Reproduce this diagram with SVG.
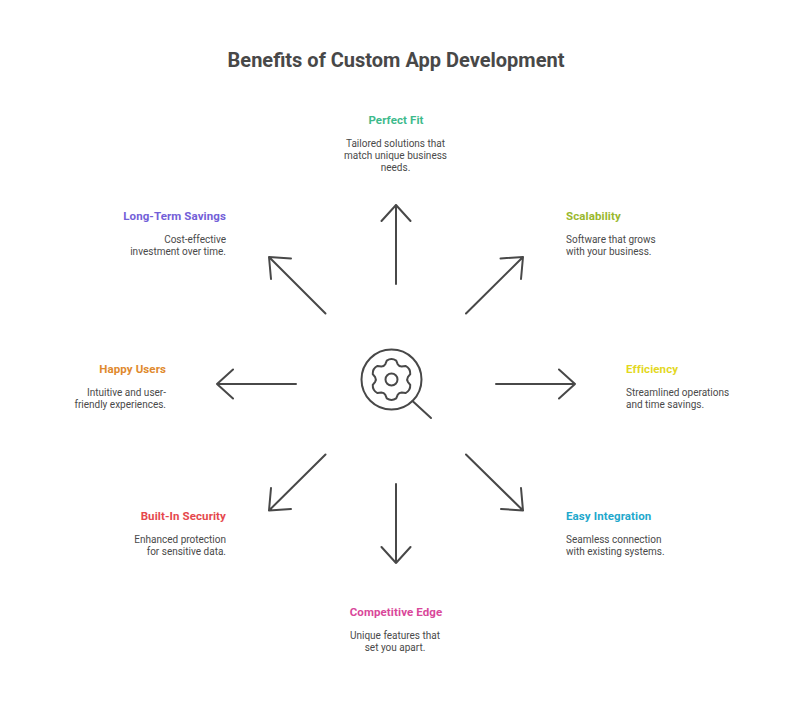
<svg xmlns="http://www.w3.org/2000/svg" width="792" height="720" viewBox="0 0 792 720">
<style>
text{font-family:Roboto,"Liberation Sans",sans-serif}
.t{font-size:11.500px;font-weight:700;letter-spacing:.1px}
.d{font-size:10px;fill:#4a4a4a}
.e{text-anchor:end}
.m{text-anchor:middle}
.a{fill:none;stroke:#484848;stroke-width:2;stroke-linecap:round;stroke-linejoin:round}
</style>
<rect width="792" height="720" fill="#fff"/>
<text id="title" x="396" y="67" class="m" style="font-size:20px;font-weight:700;fill:#484848">Benefits of Custom App Development</text>
<g id="connectors" class="a">
<path d="M396 284V205M381.500 221 396 205 410.500 221"/>
<path d="M466 313.500 523 257M500.500 258.500 523 257 521 279"/>
<path d="M496 384H575M559 369.500 575 384 559 398.500"/>
<path d="M466 454.500 523 510.500M521 488 523 510.500 501 509"/>
<path d="M396 484V563M381.500 547 396 563 410.500 547"/>
<path d="M325.500 454.500 269 510.500M271 488 269 510.500 291 509"/>
<path d="M296 384H217M233 369.500 217 384 233 398.500"/>
<path d="M325.500 313.500 269 257M291 258.500 269 257 271 279"/>
</g>
<g id="center" class="a">
<circle cx="391.500" cy="379.500" r="30"/>
<path d="M412.500 401 431 418"/>
<circle cx="391.500" cy="379.500" r="6"/>
<path d="M386.780 360.580Q391.500 357.500 396.220 360.580L397.680 364.200Q399 366.510 401.660 366.500L405.530 365.950Q410.550 368.500 410.240 374.130L407.840 377.200Q406.500 379.500 407.840 381.800L410.240 384.870Q410.550 390.500 405.530 393.050L401.660 392.500Q399 392.490 397.680 394.800L396.220 398.420Q391.500 401.500 386.780 398.420L385.320 394.800Q384 392.490 381.340 392.500L377.470 393.050Q372.450 390.500 372.760 384.870L375.160 381.800Q376.500 379.500 375.160 377.200L372.760 374.130Q372.450 368.500 377.470 365.950L381.340 366.500Q384 366.510 385.320 364.200Z"/>
</g>
<g id="perfect-fit"><text x="396" y="124" class="t m" fill="#3dba8c">Perfect Fit</text><text x="395.500" y="147" class="d m">Tailored solutions that</text><text x="395.500" y="159" class="d m">match unique business</text><text x="395.500" y="171" class="d m">needs.</text></g>
<g id="scalability"><text x="566" y="220" class="t" fill="#9ab82e">Scalability</text><text x="566" y="243" class="d">Software that grows</text><text x="566" y="255" class="d">with your business.</text></g>
<g id="efficiency"><text x="626" y="373" class="t" fill="#e3d81f">Efficiency</text><text x="626" y="396" class="d">Streamlined operations</text><text x="626" y="408" class="d">and time savings.</text></g>
<g id="easy-integration"><text x="566" y="520" class="t" fill="#1fa8cc">Easy Integration</text><text x="566" y="543" class="d">Seamless connection</text><text x="566" y="555" class="d">with existing systems.</text></g>
<g id="competitive-edge"><text x="396" y="616" class="t m" fill="#d9479a">Competitive Edge</text><text x="395" y="639" class="d m">Unique features that</text><text x="395" y="651" class="d m">set you apart.</text></g>
<g id="built-in-security"><text x="226" y="520" class="t e" fill="#e5484d">Built-In Security</text><text x="226" y="543" class="d e">Enhanced protection</text><text x="226" y="555" class="d e">for sensitive data.</text></g>
<g id="happy-users"><text x="166" y="373" class="t e" fill="#e08a2e">Happy Users</text><text x="166" y="396" class="d e">Intuitive and user-</text><text x="166" y="408" class="d e">friendly experiences.</text></g>
<g id="long-term-savings"><text x="226" y="220" class="t e" fill="#7360d8">Long-Term Savings</text><text x="226" y="243" class="d e">Cost-effective</text><text x="226" y="255" class="d e">investment over time.</text></g>
</svg>
